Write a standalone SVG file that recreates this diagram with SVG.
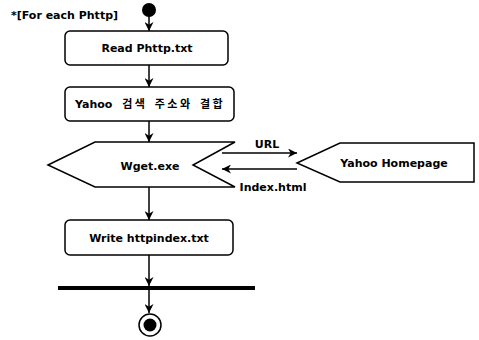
<svg xmlns="http://www.w3.org/2000/svg" width="479" height="340" viewBox="0 0 479 340">
<style>
.t{font-family:"DejaVu Sans","Noto Sans CJK KR",sans-serif;font-weight:bold;font-size:11px;fill:#000}
.m{text-anchor:middle}
.b{fill:#fff;stroke:#000;stroke-width:1.5}
.c{stroke:#000;stroke-width:1.5;fill:none}
</style>
<defs>
<marker id="ah" viewBox="0 0 10 10" refX="10" refY="5" markerWidth="9" markerHeight="9" markerUnits="userSpaceOnUse" orient="auto">
<path d="M0,0 L10,5 L0,10 L3,5 z" fill="#000"/>
</marker>
</defs>
<rect width="479" height="340" fill="#fff"/>
<text class="t" x="11" y="19" font-size="11.5">*[For each Phttp]</text>
<g id="connectors">
<line class="c" x1="149" y1="16" x2="149" y2="31" marker-end="url(#ah)"/>
<line class="c" x1="149" y1="65" x2="149" y2="87" marker-end="url(#ah)"/>
<line class="c" x1="149" y1="121" x2="149" y2="142" marker-end="url(#ah)"/>
<line class="c" x1="149" y1="187" x2="149" y2="220" marker-end="url(#ah)"/>
<line class="c" x1="149" y1="255" x2="149" y2="286" marker-end="url(#ah)"/>
<line class="c" x1="149" y1="290" x2="149" y2="313" marker-end="url(#ah)"/>
<line class="c" x1="222" y1="153" x2="297" y2="153" marker-end="url(#ah)"/>
<text class="t m" x="267" y="148">URL</text>
<line class="c" x1="297" y1="169" x2="222" y2="169" marker-end="url(#ah)"/>
<text class="t m" x="273" y="191">Index.html</text>
</g>
<g id="start"><circle cx="149" cy="10" r="7" fill="#000"/></g>
<g id="read">
<rect class="b" x="65" y="31" width="163" height="34" rx="5"/>
<text class="t m" x="147" y="52">Read Phttp.txt</text>
</g>
<g id="combine">
<rect class="b" x="65" y="87" width="169" height="34" rx="5"/>
<text class="t" x="75" y="108" word-spacing="1">Yahoo <tspan dx="5" letter-spacing="2.5">검색 주소와 결합</tspan></text>
</g>
<g id="wget">
<polygon class="b" points="48,165 95,142 235,142 193,165 235,187 95,187"/>
<text class="t m" x="150" y="170">Wget.exe</text>
</g>
<g id="yahoo">
<polygon class="b" points="297,163 340,143 474,143 474,182 340,182"/>
<text class="t m" x="394" y="167">Yahoo Homepage</text>
</g>
<g id="write">
<rect class="b" x="65" y="220" width="168" height="35" rx="5"/>
<text class="t m" x="149" y="242">Write httpindex.txt</text>
</g>
<g id="bar"><rect x="58" y="286" width="197" height="4" fill="#000"/></g>
<g id="end">
<circle cx="150" cy="325" r="11" fill="#fff" stroke="#000" stroke-width="1.5"/>
<circle cx="150" cy="325" r="6.5" fill="#000"/>
</g>
</svg>
